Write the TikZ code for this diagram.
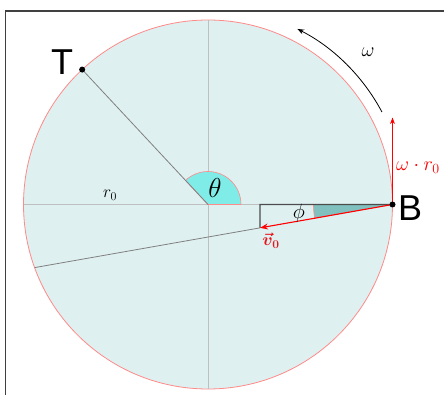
\RequirePackage{fix-cm}
\documentclass[tikz,border=0pt]{standalone}
\usepackage{amsmath, amssymb}
\usepackage{bm}
\usepackage{fontspec}
\setsansfont{Liberation Sans}
\usepackage{tikz}
\usepackage{xcolor}
\usetikzlibrary{arrows.meta, calc}

\definecolor{diskfill}{HTML}{DFF0F0}
\definecolor{rimred}{HTML}{FF8A8A}
\definecolor{thetacyan}{HTML}{7FECE8}
\definecolor{phiteal}{HTML}{80C0BE}
\definecolor{vecred}{HTML}{E8141C}

\begin{document}
\begin{tikzpicture}[
    x=1pt, y=1pt,
    >=Stealth,
    frame/.style={draw=black!75, line width=1.1pt},
    disk/.style={fill=diskfill, draw=rimred, line width=0.8pt},
    axis/.style={draw=black!25, line width=0.6pt},
    radius line/.style={draw=black!50, line width=0.8pt},
    leg/.style={draw=black!70, line width=1.1pt},
    vec/.style={->, draw=red, line width=1.1pt},
    dot/.style={circle, fill=black, inner sep=0pt, minimum size=6pt},
    letter/.style={font=\sffamily\fontsize{36}{36}\selectfont, inner sep=0pt},
    mathlabel/.style={font=\fontsize{20}{20}\selectfont, inner sep=0pt}
]
\useasboundingbox (0,0) rectangle (444,-395);

% frame (cut by the page)
\draw[frame] (5.5,-395) -- (5.5,-11) -- (444,-11);

% disk and axes
\coordinate (O) at (208,-204.5);
\draw[disk] (O) circle[radius=184.5pt];
\coordinate (left) at ($(O)+(180:184.5pt)$);
\coordinate (top) at ($(O)+(90:184.5pt)$);
\coordinate (bottom) at ($(O)+(270:184.5pt)$);
\coordinate (B) at ($(O)+(0:184.5pt)$);
\coordinate (T) at ($(O)+(133:184.5pt)$);
\draw[axis] (top) -- (bottom);

% velocity triangle at B
\coordinate (foot) at ($(B)+(180:132.5pt)$);
\coordinate (tip) at ($(B)+(190:134.5pt)$);
\coordinate (chord) at ($(B)+(190:363.4pt)$);
\draw[axis] (left) -- (foot);

% angle theta
\filldraw[fill=thetacyan, draw=rimred, line width=0.6pt]
    (O) -- ($(O)+(33pt,0)$) arc[start angle=0, end angle=133, radius=33pt] -- cycle;
\draw[radius line] (O) -- (T);

% angle phi
\filldraw[fill=phiteal, draw=rimred, line width=0.6pt]
    (B) -- ($(B)+(180:79pt)$) arc[start angle=180, end angle=190, radius=79pt] -- cycle;
\draw[leg] (B) -- (foot) -- (tip);
\draw[radius line] (tip) -- (chord);
\draw[vec] (B) -- (tip);

% tangential speed
\coordinate (up) at ($(B)+(0,87)$);
\draw[->, draw=red, line width=0.8pt] (B) -- (up);

% rotation
\draw[->, line width=0.8pt] ($(O)+(28:197pt)$) arc[start angle=28, end angle=63, radius=197pt];

% points and labels
\node[dot] (Tdot) at (T) {};
\node[dot] (Bdot) at (B) {};
\node[letter] (Tlabel) at (62,-62) {T};
\node[letter] (Blabel) at (410,-208) {B};
\node[mathlabel, font=\fontsize{24.88}{25}\selectfont, scale=1.1, transform shape] (theta) at (215,-188) {$\theta$};
\node[mathlabel, font=\fontsize{20.74}{21}\selectfont] (phi) at (299,-213) {$\phi$};
\node[mathlabel, font=\fontsize{17.28}{18}\selectfont] (rzero) at (110,-195) {$r_0$};
\node[mathlabel, font=\fontsize{17.28}{18}\selectfont, text=vecred] (vzero) at (271,-241) {$\bm{\vec{v}_0}$};
\node[mathlabel, text=red] (speed) at (418,-168) {$\omega\cdot r_0$};
\node[mathlabel] (omega) at (368,-52) {$\omega$};
\end{tikzpicture}
\end{document}
